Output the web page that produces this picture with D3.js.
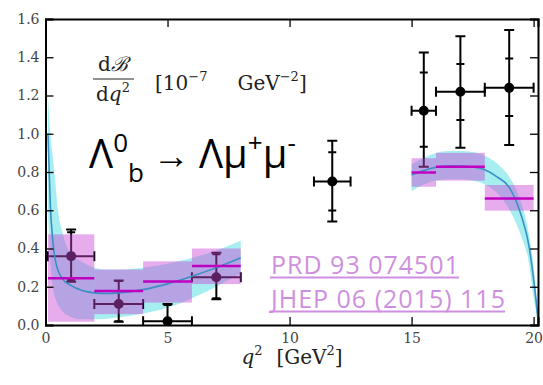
<!DOCTYPE html>
<html>
<head>
<meta charset="utf-8">
<script src="https://cdn.jsdelivr.net/npm/d3@7"></script>
<style>
body { margin: 0; background: #fff; }
</style>
</head>
<body>
<div id="canvas"></div>
<script>
var width = 543,
	height = 385;

var plotLeft = 45.5,
	plotRight = 538,
	plotTop = 19,
	plotBottom = 325;

// measured bins (LHCb)
var binLo = [0.1, 2, 4, 6, 11, 15, 16, 18];
var binHi = [2, 4, 6, 8, 12.5, 16, 18, 20];
var dataVal = [0.36, 0.11, 0.02, 0.25, 0.75, 1.12, 1.22, 1.24];
var statUp = [0.125, 0.12, 0.085, 0.12, 0.153, 0.2, 0.145, 0.154];
var statDn = [0.125, 0.09, 0.09, 0.11, 0.151, 0.188, 0.148, 0.147];
var totUp = [0.14, 0.123, 0.09, 0.128, 0.214, 0.305, 0.29, 0.302];
var totDn = [0.134, 0.093, 0.095, 0.116, 0.209, 0.292, 0.293, 0.299];

// lattice prediction bins
var thLo = [0.1, 2, 4, 6, 15, 16, 18];
var thHi = [2, 4, 6, 8, 16, 18, 20];
var thVal = [0.244, 0.178, 0.228, 0.308, 0.798, 0.828, 0.662];
var thTop = [0.474, 0.29, 0.333, 0.40, 0.872, 0.90, 0.732];
var thBot = [0.017, 0.057, 0.117, 0.214, 0.723, 0.755, 0.598];

// continuous prediction, low q2
var lowQ = [0.1, 0.2, 0.3, 0.4, 0.5, 0.7, 1.0, 1.5, 2, 2.5, 3, 4, 5, 6, 7, 8];
var lowMid = [1.0, 0.62, 0.44, 0.34, 0.29, 0.24, 0.21, 0.18, 0.168, 0.165, 0.168, 0.185, 0.215, 0.255, 0.30, 0.352];
var lowHi = [1.2, 1.0, 0.88, 0.75, 0.61, 0.48, 0.38, 0.33, 0.30, 0.29, 0.29, 0.30, 0.32, 0.35, 0.39, 0.44];
var lowLo = [0.6, 0.33, 0.2, 0.14, 0.11, 0.07, 0.045, 0.03, 0.03, 0.033, 0.04, 0.06, 0.09, 0.14, 0.2, 0.27];

// continuous prediction, high q2
var highQ = [15, 15.5, 16, 16.5, 17, 17.5, 18, 18.5, 19, 19.5, 19.8, 20, 20.1, 20.2];
var highMid = [0.784, 0.808, 0.825, 0.831, 0.831, 0.826, 0.812, 0.775, 0.72, 0.57, 0.42, 0.24, 0.13, 0];
var highHi = [0.84, 0.875, 0.90, 0.91, 0.91, 0.905, 0.885, 0.845, 0.775, 0.636, 0.48, 0.305, 0.17, 0];
var highLo = [0.70, 0.735, 0.755, 0.762, 0.762, 0.755, 0.735, 0.69, 0.605, 0.46, 0.33, 0.14, 0.07, 0];

var xTicks = [0, 5, 10, 15, 20];
var yTicks = [0, 0.2, 0.4, 0.6, 0.8, 1.0, 1.2, 1.4, 1.6];

var x = d3.scaleLinear().domain([0, 20.18]).range([plotLeft, plotRight]);
var y = d3.scaleLinear().domain([0, 1.6]).range([plotBottom, plotTop]);

var svg = d3.select("#canvas").append("svg")
	.attr("width", width)
	.attr("height", height)
	.style("background-color", "#fff")

svg.append("clipPath").attr("id", "clip")
	.append("rect")
	.attr("x", plotLeft).attr("y", plotTop)
	.attr("width", plotRight - plotLeft).attr("height", plotBottom - plotTop)

var plot = svg.append("g").attr("clip-path", "url(#clip)");

function zipCurve(q, mid, hi, lo){
	return q.map(function(v, i){ return {q: v, m: mid[i], h: hi[i], l: lo[i]} })
}
var bands = [zipCurve(lowQ, lowMid, lowHi, lowLo), zipCurve(highQ, highMid, highHi, highLo)];

var area = d3.area()
	.x(function(d){ return x(d.q) })
	.y0(function(d){ return y(d.l) })
	.y1(function(d){ return y(d.h) })
	.curve(d3.curveMonotoneX)

var line = d3.line()
	.x(function(d){ return x(d.q) })
	.y(function(d){ return y(d.m) })
	.curve(d3.curveMonotoneX)

plot.selectAll(".band")
	.data(bands)
	.enter().append("path")
	.attr("d", area)
	.attr("fill", "rgb(20,210,215)")
	.attr("fill-opacity", 0.38)

// data points with error bars
var points = dataVal.map(function(v, i){
	return {lo: binLo[i], hi: binHi[i], v: v, su: statUp[i], sd: statDn[i], tu: totUp[i], td: totDn[i]}
});

var pt = plot.selectAll(".pt")
	.data(points)
	.enter().append("g")
	.attr("stroke", "#000")
	.attr("stroke-width", 2)

pt.append("line")
	.attr("x1", function(d){ return x(d.lo) })
	.attr("x2", function(d){ return x(d.hi) })
	.attr("y1", function(d){ return y(d.v) })
	.attr("y2", function(d){ return y(d.v) })
pt.append("line")
	.attr("x1", function(d){ return x((d.lo + d.hi) / 2) })
	.attr("x2", function(d){ return x((d.lo + d.hi) / 2) })
	.attr("y1", function(d){ return y(d.v + d.tu) })
	.attr("y2", function(d){ return y(d.v - d.td) })

var capW = 5;
// x caps
pt.selectAll(".xcap")
	.data(function(d){ return [{q: d.lo, v: d.v}, {q: d.hi, v: d.v}] })
	.enter().append("line")
	.attr("x1", function(d){ return x(d.q) })
	.attr("x2", function(d){ return x(d.q) })
	.attr("y1", function(d){ return y(d.v) - capW })
	.attr("y2", function(d){ return y(d.v) + capW })
// y caps (stat + total)
pt.selectAll(".ycap")
	.data(function(d){
		var c = (d.lo + d.hi) / 2;
		return [{q: c, v: d.v + d.su, w: 4}, {q: c, v: d.v - d.sd, w: 4}, {q: c, v: d.v + d.tu, w: 5}, {q: c, v: d.v - d.td, w: 5}]
	})
	.enter().append("line")
	.attr("x1", function(d){ return x(d.q) - d.w })
	.attr("x2", function(d){ return x(d.q) + d.w })
	.attr("y1", function(d){ return y(d.v) })
	.attr("y2", function(d){ return y(d.v) })

pt.append("circle")
	.attr("cx", function(d){ return x((d.lo + d.hi) / 2) })
	.attr("cy", function(d){ return y(d.v) })
	.attr("r", 4)
	.attr("fill", "#000")

// binned prediction boxes
var boxes = thVal.map(function(v, i){
	return {lo: thLo[i], hi: thHi[i], v: v, t: thTop[i], b: thBot[i]}
});

plot.selectAll(".box")
	.data(boxes)
	.enter().append("rect")
	.attr("x", function(d){ return x(d.lo) })
	.attr("width", function(d){ return x(d.hi) - x(d.lo) })
	.attr("y", function(d){ return y(d.t) })
	.attr("height", function(d){ return y(d.b) - y(d.t) })
	.attr("fill", "rgb(200,70,210)")
	.attr("fill-opacity", 0.45)

plot.selectAll(".mid")
	.data(bands)
	.enter().append("path")
	.attr("d", line)
	.attr("fill", "none")
	.attr("stroke", "#3a8fc4")
	.attr("stroke-width", 1.6)

plot.selectAll(".boxline")
	.data(boxes)
	.enter().append("line")
	.attr("x1", function(d){ return x(d.lo) })
	.attr("x2", function(d){ return x(d.hi) })
	.attr("y1", function(d){ return y(d.v) })
	.attr("y2", function(d){ return y(d.v) })
	.attr("stroke", "#c000c0")
	.attr("stroke-width", 2.5)

// axes, ticks inside on all four sides
var serif = "'DejaVu Serif', serif";
var axB = svg.append("g").attr("transform", "translate(0," + plotBottom + ")")
	.call(d3.axisBottom(x).tickValues(xTicks).tickSize(-8).tickPadding(8).tickFormat(d3.format("d")))
var axT = svg.append("g").attr("transform", "translate(0," + plotTop + ")")
	.call(d3.axisTop(x).tickValues(xTicks).tickSize(-8).tickFormat(""))
var axL = svg.append("g").attr("transform", "translate(" + plotLeft + ",0)")
	.call(d3.axisLeft(y).tickValues(yTicks).tickSize(-8).tickPadding(6).tickFormat(d3.format(".1f")))
var axR = svg.append("g").attr("transform", "translate(" + plotRight + ",0)")
	.call(d3.axisRight(y).tickValues(yTicks).tickSize(-8).tickFormat(""))

;[axB, axT, axL, axR].forEach(function(a){
	a.select(".domain").attr("stroke", "#000").attr("stroke-width", 2)
	a.selectAll(".tick line").attr("stroke", "#000").attr("stroke-width", 1.3)
	a.selectAll("text").attr("font-family", serif).attr("font-size", 14).attr("fill", "#444")
})

// axis title
var xt = svg.append("text")
	.attr("x", 292).attr("y", 364)
	.attr("text-anchor", "middle")
	.attr("font-family", serif)
	.attr("font-size", 20)
	.attr("fill", "#222")
xt.append("tspan").attr("font-style", "italic").text("q")
xt.append("tspan").attr("font-size", 13).attr("dy", -9).text("2")
xt.append("tspan").attr("dy", 9).text("\u2002\u2009[GeV")
xt.append("tspan").attr("font-size", 13).attr("dy", -9).text("2")
xt.append("tspan").attr("dy", 9).text("]")

// dB/dq2 label
var num = svg.append("text").attr("x", 113).attr("y", 71).attr("text-anchor", "middle")
	.attr("font-family", serif).attr("font-size", 20).attr("fill", "#222")
num.append("tspan").text("d")
num.append("tspan").attr("font-style", "italic").text("\u212C")
svg.append("line").attr("x1", 93).attr("x2", 134).attr("y1", 79).attr("y2", 79)
	.attr("stroke", "#222").attr("stroke-width", 1)
var den = svg.append("text").attr("x", 113).attr("y", 101).attr("text-anchor", "middle")
	.attr("font-family", serif).attr("font-size", 20).attr("fill", "#222")
den.append("tspan").text("d")
den.append("tspan").attr("font-style", "italic").text("q")
den.append("tspan").attr("font-size", 13).attr("dy", -9).text("2")

var unit = svg.append("text").attr("x", 155).attr("y", 90)
	.attr("font-family", serif).attr("font-size", 20).attr("fill", "#222")
unit.append("tspan").text("[10")
unit.append("tspan").attr("font-size", 13).attr("dy", -9).text("\u22127")
unit.append("tspan").attr("dy", 9).text("\u2003\u2002GeV")
unit.append("tspan").attr("font-size", 13).attr("dy", -9).text("\u22122")
unit.append("tspan").attr("dy", 9).text("]")

// decay label
var decay = svg.append("text").attr("x", 89).attr("y", 168)
	.attr("font-family", "'Open Sans', sans-serif").attr("font-size", 40)
decay.append("tspan").text("\u039B")
decay.append("tspan").attr("font-size", 26).attr("dy", -16).text("0")
decay.append("tspan").attr("font-size", 26).attr("dy", 30).text("b")
decay.append("tspan").attr("font-size", 36).attr("dx", 9).attr("dy", -14)
	.attr("textLength", 37).attr("lengthAdjust", "spacingAndGlyphs").text("\u2192")
decay.append("tspan").attr("dx", 9).text("\u039B\u03BC")
decay.append("tspan").attr("font-size", 26).attr("dy", -16).text("+")
decay.append("tspan").attr("dy", 16).text("\u03BC")
decay.append("tspan").attr("font-size", 26).attr("dy", -16).text("-")

// references
var refs = ["PRD 93 074501", "JHEP 06 (2015) 115"];
var refY = [273.5, 307.6];
refs.forEach(function(r, i){
	var t = svg.append("text").attr("x", 271).attr("y", refY[i])
		.attr("font-family", "'Open Sans', sans-serif").attr("font-size", 25)
		.attr("letter-spacing", 1)
		.attr("fill", "#cf8fe0").text(r)
	var w = t.node().getComputedTextLength();
	svg.append("line").attr("x1", 270).attr("x2", 270 + w)
		.attr("y1", refY[i] + 4).attr("y2", refY[i] + 4)
		.attr("stroke", "#cf8fe0").attr("stroke-width", 2)
})
</script>
</body>
</html>
